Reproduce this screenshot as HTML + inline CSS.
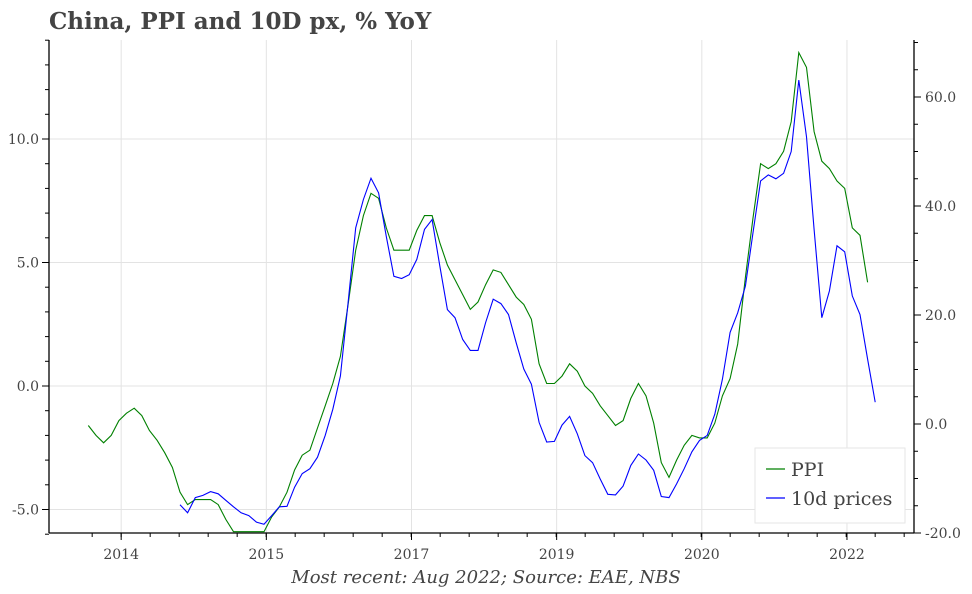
<!DOCTYPE html>
<html><head><meta charset="utf-8"><style>
body{margin:0;background:#fff;}
svg text{font-family:"DejaVu Serif","Liberation Serif",serif;fill:#444;}
</style></head><body>
<svg id="chart" width="972" height="589" viewBox="0 0 972 589" xmlns="http://www.w3.org/2000/svg">
<text x="49" y="29" font-size="23" font-weight="bold">China, PPI and 10D px, % YoY</text>
<g id="grid"></g>
<g id="axes"></g>
<g id="series"></g>
<g>
<rect x="755" y="448" width="150" height="75" fill="#fff" stroke="#e6e6e6"/>
<line x1="766" y1="469" x2="785" y2="469" stroke="green" stroke-width="1.2"/>
<text x="791" y="476" font-size="19">PPI</text>
<line x1="766" y1="498" x2="785" y2="498" stroke="blue" stroke-width="1.2"/>
<text x="791" y="505" font-size="19">10d prices</text>
</g>
<text x="486" y="583" font-size="18" font-style="italic" text-anchor="middle">Most recent: Aug 2022; Source: EAE, NBS</text>
</svg>
<script>
// months indexed from Jan 2013 = 0
const ppiStart = 12; // Jan 2014
const ppiValues = [-1.6,-2.0,-2.3,-2.0,-1.4,-1.1,-0.9,-1.2,-1.8,-2.2,-2.7,-3.3,
-4.3,-4.8,-4.6,-4.6,-4.6,-4.8,-5.4,-5.9,-5.9,-5.9,-5.9,-5.9,
-5.3,-4.9,-4.3,-3.4,-2.8,-2.6,-1.7,-0.8,0.1,1.2,3.3,5.5,
6.9,7.8,7.6,6.4,5.5,5.5,5.5,6.3,6.9,6.9,5.8,4.9,
4.3,3.7,3.1,3.4,4.1,4.7,4.6,4.1,3.6,3.3,2.7,0.9,
0.1,0.1,0.4,0.9,0.6,0.0,-0.3,-0.8,-1.2,-1.6,-1.4,-0.5,
0.1,-0.4,-1.5,-3.1,-3.7,-3.0,-2.4,-2.0,-2.1,-2.1,-1.5,-0.4,
0.3,1.7,4.4,6.8,9.0,8.8,9.0,9.5,10.7,13.5,12.9,10.3,
9.1,8.8,8.3,8.0,6.4,6.1,4.2];
const pxStart = 24; // Jan 2015
const pxValues = [-14.8,-16.3,-13.5,-13.1,-12.4,-12.8,-14.0,-15.2,-16.3,-16.8,-18.0,-18.4,
-16.8,-15.2,-15.1,-11.6,-9.1,-8.2,-6.1,-2.1,2.7,8.8,22.3,36.0,
41.2,45.1,42.4,34.4,27.1,26.7,27.4,30.2,35.7,37.5,29.0,21.0,
19.5,15.5,13.5,13.5,18.6,22.9,22.1,20.1,14.9,10.1,7.3,0.3,
-3.3,-3.2,-0.2,1.4,-1.8,-5.8,-7.1,-10.1,-12.9,-13.0,-11.4,-7.6,
-5.5,-6.6,-8.5,-13.3,-13.5,-11.0,-8.2,-5.1,-3.0,-2.1,1.8,8.2,
16.8,20.4,25.3,35.1,44.6,45.7,45.0,46.0,50.0,63.1,52.7,35.7,
19.5,24.4,32.7,31.6,23.5,20.1,11.9,4.0];
const xTickMonths = [16.3, 35.3, 54.3, 73.3, 92.3, 111.3];
const xTickLabels = ["2014","2015","2017","2019","2020","2022"];
const leftTicks = [-5, 0, 5, 10];
const leftTickLabels = ["-5.0","0.0","5.0","10.0"];
const rightTicks = [-20, 0, 20, 40, 60];
const rightTickLabels = ["-20.0","0.0","20.0","40.0","60.0"];

const L=49,R=914,T=40,B=533;
const X = m => 180 + (m-24)*7.64;
const YL = v => 386 - v*24.7;
const YR = v => 424 - v*5.45;
const NS="http://www.w3.org/2000/svg";
function mk(parent,tag,attrs){const e=document.createElementNS(NS,tag);for(const k in attrs)e.setAttribute(k,attrs[k]);parent.appendChild(e);return e;}
const grid=document.getElementById('grid'),axes=document.getElementById('axes'),series=document.getElementById('series');

xTickMonths.forEach((m,i)=>{
  const x=X(m);
  const g=mk(grid,'line',{x1:x,x2:x,y1:T,y2:B,stroke:'#e3e3e3','stroke-width':1});
  
  
  const t=mk(axes,'line',{x1:x,x2:x,y1:B,y2:B+7,stroke:'#000','stroke-width':1});
  
  
  const lb=mk(axes,'text',{x:x,y:B+26,'font-size':14,'text-anchor':'middle'});
  lb.textContent=xTickLabels[i];
  
  
});
for(let x=X(xTickMonths[0])-29*1; x<R; x+=29){
  if(x<L) continue;
  const t=mk(axes,'line',{x1:x,x2:x,y1:B,y2:B+4,stroke:'#000','stroke-width':1});
  
  
}
leftTicks.forEach((v,i)=>{
  const y=YL(v);
  const g=mk(grid,'line',{x1:L,x2:R,y1:y,y2:y,stroke:'#e3e3e3','stroke-width':1});
  
  
  const lb=mk(axes,'text',{x:39,y:y+5,'font-size':14,'text-anchor':'end'});
  lb.textContent=leftTickLabels[i];
  
  
});
for(let v=-6; v<=14; v++){
  const y=YL(v);
  const t=mk(axes,'line',{x1:L-(v%5===0?7:4),x2:L,y1:y,y2:y,stroke:'#000','stroke-width':1});
  
  
}
for(let v=-20; v<=70; v+=5){
  const y=YR(v);
  if(y<T) continue;
  const t=mk(axes,'line',{x1:R,x2:R+(v%20===0?7:4),y1:y,y2:y,stroke:'#000','stroke-width':1});
  
  
}
rightTicks.forEach((v,i)=>{
  const lb=mk(axes,'text',{x:925,y:YR(v)+5,'font-size':14});
  lb.textContent=rightTickLabels[i];
  
  
});
const sp=[[L,T,L,B],[R,T,R,B],[L,B,R,B]];
sp.forEach(s=>{
  const e=mk(axes,'line',{x1:s[0],y1:s[1],x2:s[2],y2:s[3],stroke:'#000','stroke-width':1.3});
  
  
});
const ppiPts=ppiValues.map((v,i)=>X(ppiStart+i).toFixed(1)+','+YL(v).toFixed(1)).join(' ');
const ppi=mk(series,'polyline',{points:ppiPts,fill:'none',stroke:'green','stroke-width':1.1});


const pxPts=pxValues.map((v,i)=>X(pxStart+i).toFixed(1)+','+YR(v).toFixed(1)).join(' ');
const px=mk(series,'polyline',{points:pxPts,fill:'none',stroke:'blue','stroke-width':1.1});


</script>
</body></html>
